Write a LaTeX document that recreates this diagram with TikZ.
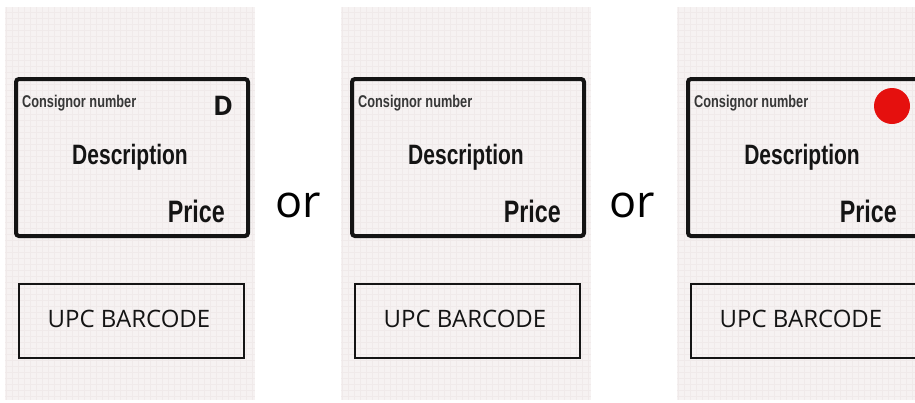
\documentclass[tikz,border=0pt]{standalone}
\usepackage{fontspec}
\setmainfont{Liberation Sans}
\newfontfamily\handfont[FakeStretch=0.75]{Liberation Sans}
\newfontfamily\roundfont{Open Sans}
\usetikzlibrary{positioning}
\definecolor{paper}{HTML}{F6F2F2}
\definecolor{papergrid}{HTML}{F0EAEA}
\definecolor{ink}{HTML}{141414}
\definecolor{dotred}{HTML}{E5100E}

\begin{document}
\begin{tikzpicture}[x=1pt,y=-1pt,
  card/.style={draw=ink,line width=4pt,rounded corners=3pt,minimum width=232pt,minimum height=157pt,inner sep=0},
  barbox/.style={draw=ink,line width=1.8pt,minimum width=225pt,minimum height=74pt,inner sep=0},
  small/.style={font=\handfont\bfseries\fontsize{17}{19}\selectfont,inner sep=0,text=ink!85},
  hand/.style={font=\handfont\bfseries\fontsize{28}{32}\selectfont,inner sep=0,text=ink},
  caps/.style={font=\roundfont\fontsize{24}{28}\selectfont,inner sep=0,text=ink},
  orlabel/.style={font=\roundfont\fontsize{45}{50}\selectfont,inner sep=0}]

\clip (0,0) rectangle (915,402);
\useasboundingbox (0,0) rectangle (915,402);

\foreach \i/\ox in {1/0,2/336,3/672}{%
  \fill[paper] (\ox+5,7) rectangle (\ox+255,400);
  \draw[papergrid,line width=0.2pt,step=6pt] (\ox+5,7) grid (\ox+255,400);
  \node[card] (card\i) at (\ox+132,157.5) {};
  \node[barbox] (bar\i) at (\ox+131.5,321) {};
  \node[small,anchor=base west] (cons\i) at ([xshift=8pt,yshift=-30pt]card\i.north west) {Consignor number};
  \node[hand,anchor=base] (desc\i) at (\ox+130,164) {Description};
  \node[hand,anchor=base east,font=\handfont\bfseries\fontsize{31}{34}\selectfont] (price\i) at ([xshift=-25pt,yshift=16pt]card\i.south east) {Price};
  \node[caps,anchor=base] (upc\i) at (\ox+129,327) {UPC BARCODE};
}

% marks in the corner
\node[font=\roundfont\bfseries\fontsize{27}{30}\selectfont,inner sep=0,text=ink] (flag1) at ([xshift=-27pt,yshift=-29pt]card1.north east) {D};
\node[circle,fill=dotred,minimum size=36pt,inner sep=0] (flag3) at ([xshift=-30pt,yshift=-29pt]card3.north east) {};

\node[orlabel] (or1) at (298,205) {or};
\node[orlabel] (or2) at (632,205) {or};
\end{tikzpicture}
\end{document}
